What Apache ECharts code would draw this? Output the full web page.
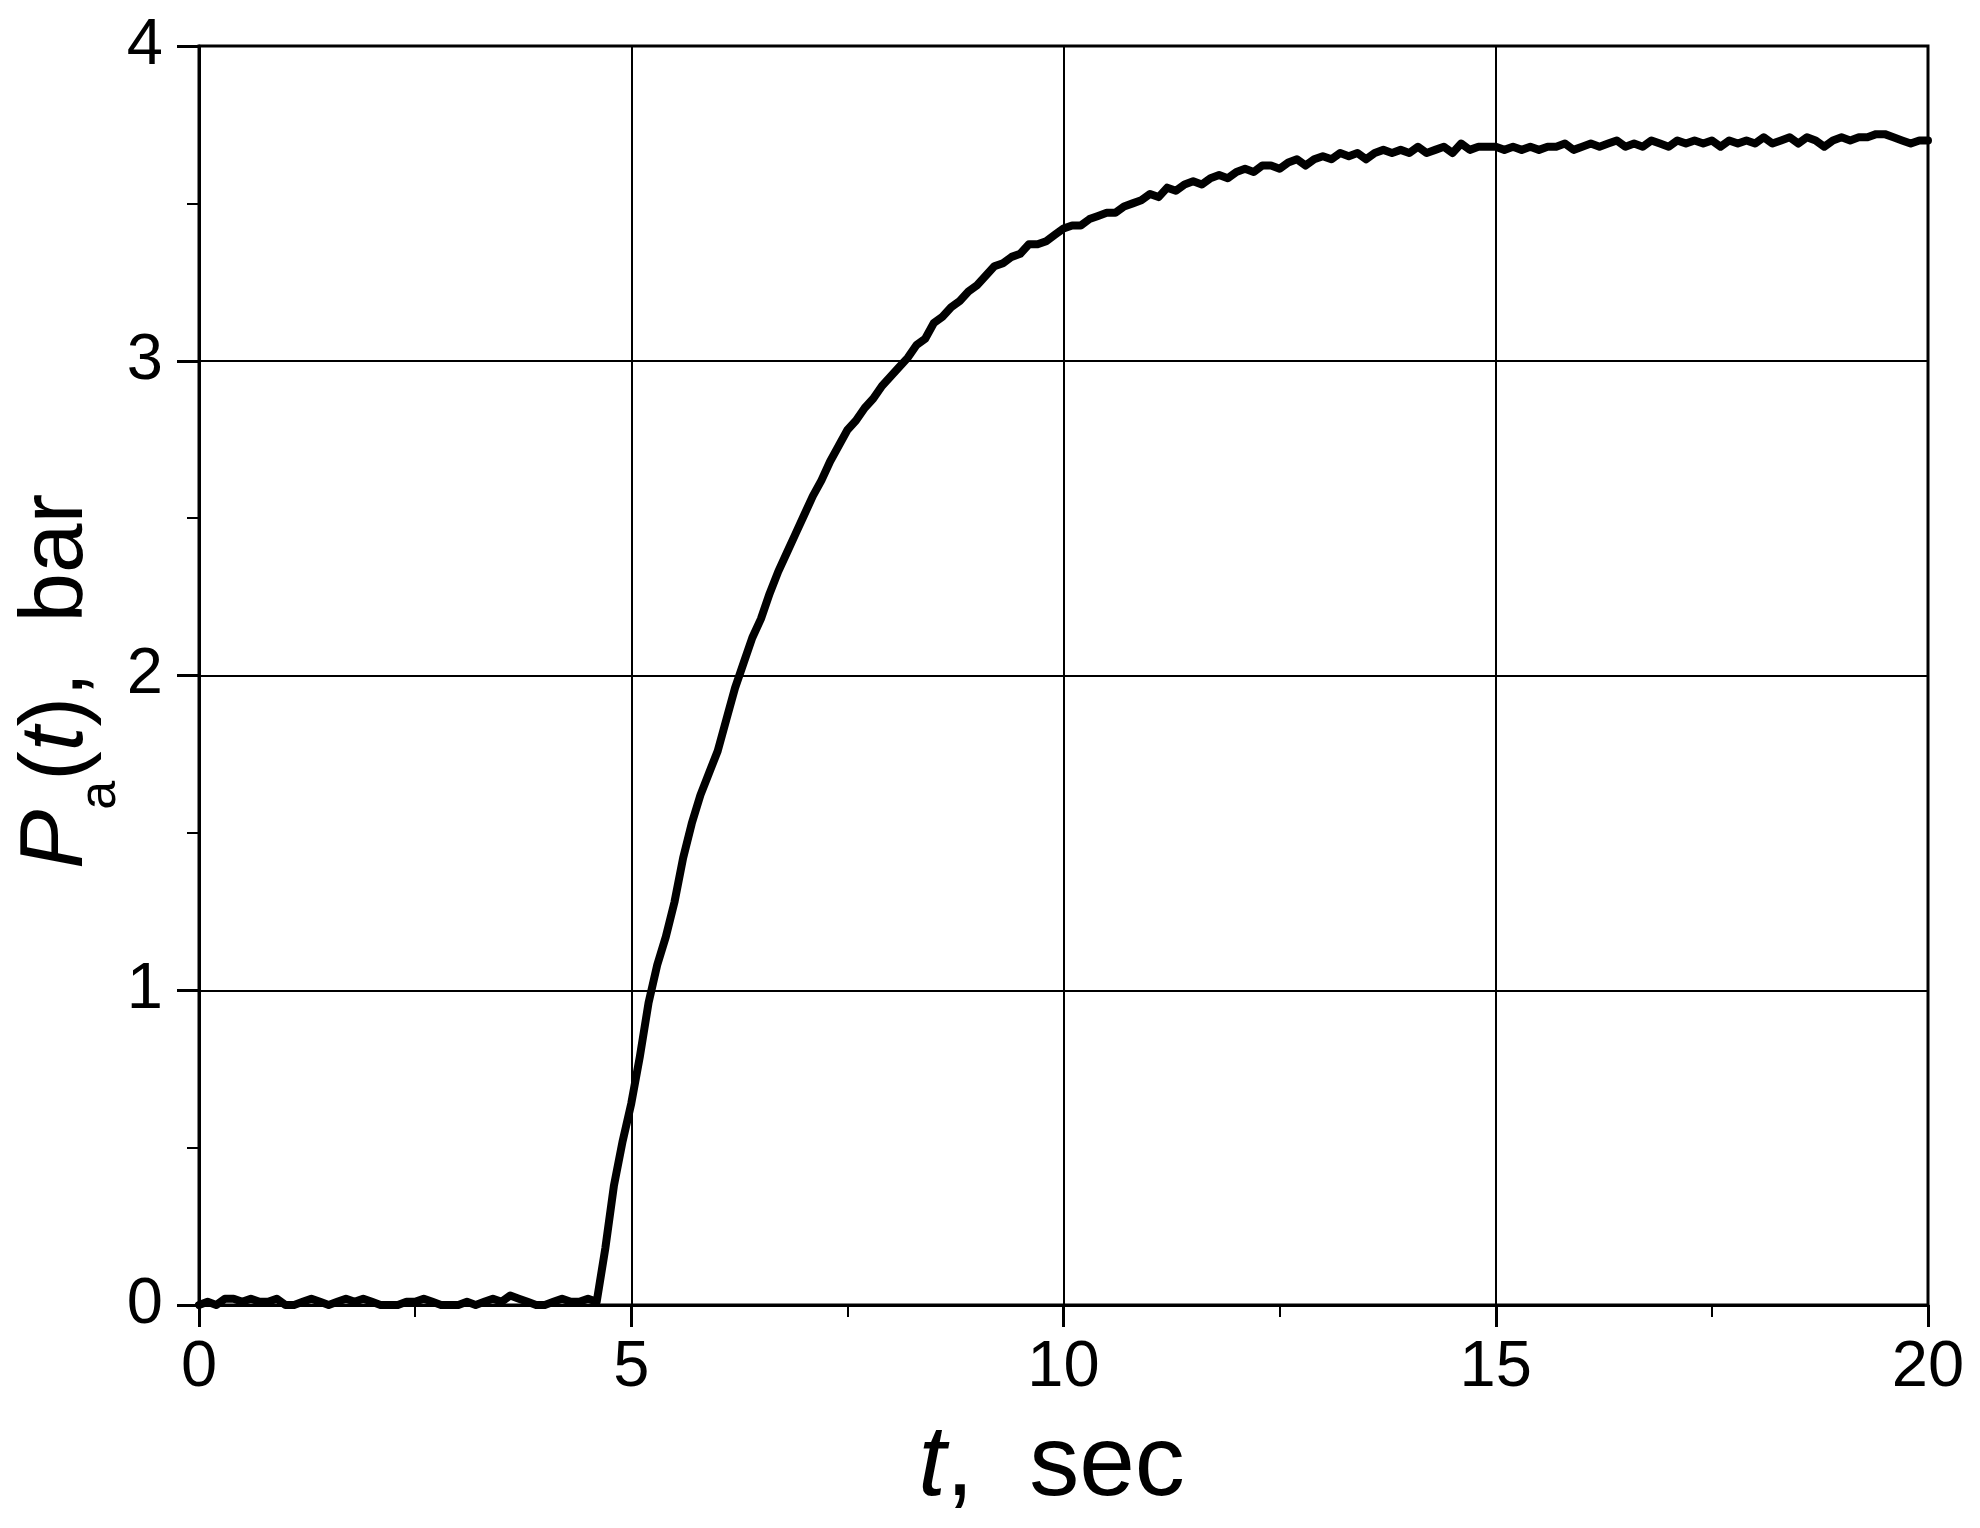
<!DOCTYPE html>
<html>
<head>
<meta charset="utf-8">
<script src="https://cdn.jsdelivr.net/npm/echarts@6/dist/echarts.min.js"></script>
<style>
html,body{margin:0;padding:0;background:#fff;}
#chart{width:1980px;height:1528px;}
</style>
</head>
<body>
<div id="chart"></div>
<script>
// Time axis, seconds
var timeValues = [
  0.0,0.1,0.2,0.3,0.4,0.5,0.6,0.7,0.8,0.9,
  1.0,1.1,1.2,1.3,1.4,1.5,1.6,1.7,1.8,1.9,
  2.0,2.1,2.2,2.3,2.4,2.5,2.6,2.7,2.8,2.9,
  3.0,3.1,3.2,3.3,3.4,3.5,3.6,3.7,3.8,3.9,
  4.0,4.1,4.2,4.3,4.4,4.5,4.6,4.7,4.8,4.9,
  5.0,5.1,5.2,5.3,5.4,5.5,5.6,5.7,5.8,5.9,
  6.0,6.1,6.2,6.3,6.4,6.5,6.6,6.7,6.8,6.9,
  7.0,7.1,7.2,7.3,7.4,7.5,7.6,7.7,7.8,7.9,
  8.0,8.1,8.2,8.3,8.4,8.5,8.6,8.7,8.8,8.9,
  9.0,9.1,9.2,9.3,9.4,9.5,9.6,9.7,9.8,9.9,
  10.0,10.1,10.2,10.3,10.4,10.5,10.6,10.7,10.8,10.9,
  11.0,11.1,11.2,11.3,11.4,11.5,11.6,11.7,11.8,11.9,
  12.0,12.1,12.2,12.3,12.4,12.5,12.6,12.7,12.8,12.9,
  13.0,13.1,13.2,13.3,13.4,13.5,13.6,13.7,13.8,13.9,
  14.0,14.1,14.2,14.3,14.4,14.5,14.6,14.7,14.8,14.9,
  15.0,15.1,15.2,15.3,15.4,15.5,15.6,15.7,15.8,15.9,
  16.0,16.1,16.2,16.3,16.4,16.5,16.6,16.7,16.8,16.9,
  17.0,17.1,17.2,17.3,17.4,17.5,17.6,17.7,17.8,17.9,
  18.0,18.1,18.2,18.3,18.4,18.5,18.6,18.7,18.8,18.9,
  19.0,19.1,19.2,19.3,19.4,19.5,19.6,19.7,19.8,19.9,
  20.0
];
// Pressure P_a(t), bar
var pressureValues = [
  0.00,0.01,0.00,0.02,0.02,0.01,0.02,0.01,0.01,0.02,
  0.00,0.00,0.01,0.02,0.01,0.00,0.01,0.02,0.01,0.02,
  0.01,0.00,0.00,0.00,0.01,0.01,0.02,0.01,0.00,0.00,
  0.00,0.01,0.00,0.01,0.02,0.01,0.03,0.02,0.01,0.00,
  0.00,0.01,0.02,0.01,0.01,0.02,0.01,0.18,0.38,0.52,
  0.64,0.79,0.96,1.08,1.17,1.28,1.42,1.53,1.62,1.69,
  1.76,1.86,1.96,2.04,2.12,2.18,2.26,2.33,2.39,2.45,
  2.51,2.57,2.62,2.68,2.73,2.78,2.81,2.85,2.88,2.92,
  2.95,2.98,3.01,3.05,3.07,3.12,3.14,3.17,3.19,3.22,
  3.24,3.27,3.30,3.31,3.33,3.34,3.37,3.37,3.38,3.40,
  3.42,3.43,3.43,3.45,3.46,3.47,3.47,3.49,3.50,3.51,
  3.53,3.52,3.55,3.54,3.56,3.57,3.56,3.58,3.59,3.58,
  3.60,3.61,3.60,3.62,3.62,3.61,3.63,3.64,3.62,3.64,
  3.65,3.64,3.66,3.65,3.66,3.64,3.66,3.67,3.66,3.67,
  3.66,3.68,3.66,3.67,3.68,3.66,3.69,3.67,3.68,3.68,
  3.68,3.67,3.68,3.67,3.68,3.67,3.68,3.68,3.69,3.67,
  3.68,3.69,3.68,3.69,3.70,3.68,3.69,3.68,3.70,3.69,
  3.68,3.70,3.69,3.70,3.69,3.70,3.68,3.70,3.69,3.70,
  3.69,3.71,3.69,3.70,3.71,3.69,3.71,3.70,3.68,3.70,
  3.71,3.70,3.71,3.71,3.72,3.72,3.71,3.70,3.69,3.70,
  3.70
];
// Axis ticks
var xTicks = [0, 5, 10, 15, 20];
var yTicks = [0, 1, 2, 3, 4];

var FONT = '"Liberation Sans", Arial, Helvetica, sans-serif';
var seriesData = timeValues.map(function (t, i) { return [t, pressureValues[i]]; });

var chart = echarts.init(document.getElementById('chart'), null, {renderer: 'canvas'});
chart.setOption({
  animation: false,
  backgroundColor: '#ffffff',
  grid: {
    left: 199, right: 52, top: 46, bottom: 223,
    containLabel: false,
    outerBoundsMode: 'none',
    show: true, borderColor: '#000', borderWidth: 3, backgroundColor: 'transparent'
  },
  xAxis: {
    type: 'value',
    min: xTicks[0], max: xTicks[xTicks.length - 1],
    interval: xTicks[1] - xTicks[0],
    name: '{i|t}{n|,  sec}',
    nameLocation: 'middle',
    nameGap: 112,
    nameMoveOverlap: false,
    nameTextStyle: {
      padding: [0, 24, 0, 0],
      rich: {
        i: {fontFamily: FONT, fontSize: 100, fontStyle: 'italic', color: '#000', lineHeight: 100},
        n: {fontFamily: FONT, fontSize: 100, color: '#000', lineHeight: 100}
      }
    },
    axisLine: {show: true, onZero: false, lineStyle: {color: '#000', width: 3}},
    axisTick: {show: true, inside: false, length: 22, lineStyle: {color: '#000', width: 3}},
    minorTick: {show: true, splitNumber: 2, length: 12, lineStyle: {color: '#000', width: 2}},
    axisLabel: {fontFamily: FONT, fontSize: 65, color: '#000', margin: 31},
    splitLine: {show: true, lineStyle: {color: '#000', width: 2}}
  },
  yAxis: {
    type: 'value',
    min: yTicks[0], max: yTicks[yTicks.length - 1],
    interval: yTicks[1] - yTicks[0],
    name: '{p|P}{s|a}{n|(}{i|t}{n|),  bar}',
    nameLocation: 'middle',
    nameRotate: 90,
    nameGap: 86,
    nameMoveOverlap: false,
    nameTextStyle: {
      padding: [0, 12, 0, 0],
      rich: {
        p: {fontFamily: FONT, fontSize: 89, fontStyle: 'italic', color: '#000', lineHeight: 100, verticalAlign: 'top'},
        s: {fontFamily: FONT, fontSize: 52, color: '#000', lineHeight: 52, verticalAlign: 'top', padding: [62, 0, 0, 0]},
        n: {fontFamily: FONT, fontSize: 89, color: '#000', lineHeight: 100, verticalAlign: 'top'},
        i: {fontFamily: FONT, fontSize: 89, fontStyle: 'italic', color: '#000', lineHeight: 100, verticalAlign: 'top'}
      }
    },
    axisLine: {show: true, onZero: false, lineStyle: {color: '#000', width: 3}},
    axisTick: {show: true, inside: false, length: 22, lineStyle: {color: '#000', width: 3}},
    minorTick: {show: true, splitNumber: 2, length: 12, lineStyle: {color: '#000', width: 2}},
    axisLabel: {fontFamily: FONT, fontSize: 65, color: '#000', margin: 36},
    splitLine: {show: true, lineStyle: {color: '#000', width: 2}}
  },
  series: [{
    type: 'line',
    data: seriesData,
    showSymbol: false,
    symbol: 'none',
    smooth: false,
    lineStyle: {color: '#000', width: 8, join: 'round', cap: 'round'},
    clip: true,
    z: 5
  }]
});
</script>
</body>
</html>
